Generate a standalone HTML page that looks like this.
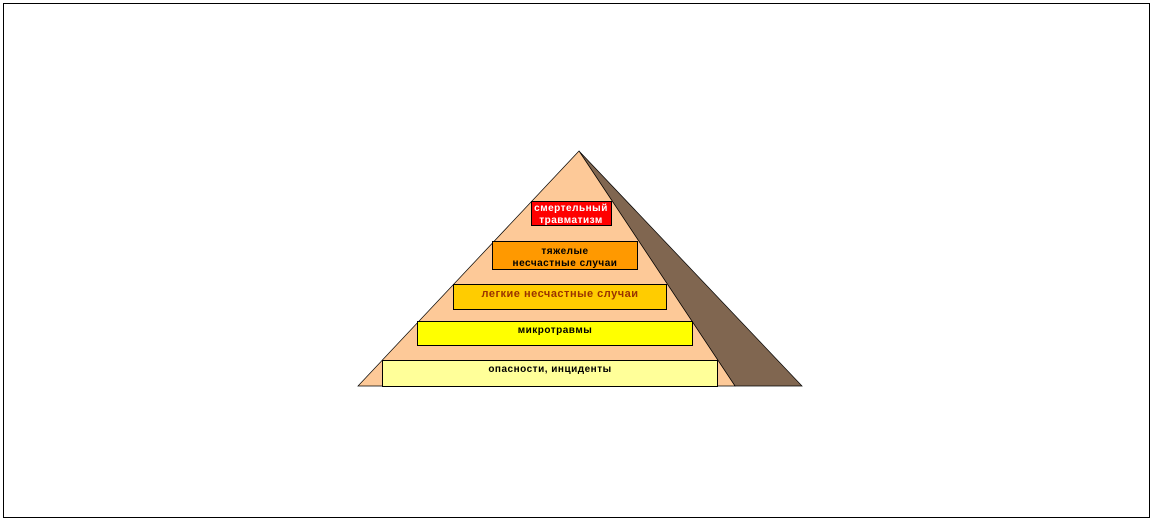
<!DOCTYPE html>
<html><head><meta charset="utf-8"><style>
body{margin:0;background:#fff;}
svg text{font-family:"Liberation Sans",sans-serif;font-weight:bold;font-size:10px;text-anchor:middle;letter-spacing:0.5px;}
</style></head><body>
<svg width="1153" height="521" xmlns="http://www.w3.org/2000/svg">
<rect x="3.5" y="3.5" width="1146" height="514" fill="#fff" stroke="#000" stroke-width="1"/>
<polygon points="579,151 802,386 735,386" fill="#806650" stroke="#000" stroke-width="0.7"/>
<polygon points="579,151 358,386 735,386" fill="#fdc998" stroke="#000" stroke-width="0.7"/>
<rect x="531.5" y="201.5" width="80" height="24" fill="#ff0000" stroke="#000"/>
<text x="571" y="211" fill="#fff">смертельный</text>
<text x="571" y="223" fill="#fff">травматизм</text>
<rect x="492.5" y="241.5" width="145" height="28" fill="#ff9900" stroke="#000"/>
<text x="565" y="254" fill="#000">тяжелые</text>
<text x="565" y="266" fill="#000">несчастные случаи</text>
<rect x="453.5" y="284.5" width="213" height="25" fill="#ffcc00" stroke="#000"/>
<text x="560" y="297" fill="#993300" style="font-size:11px">легкие несчастные случаи</text>
<rect x="417.5" y="321.5" width="275" height="24" fill="#ffff00" stroke="#000"/>
<text x="555" y="333" fill="#000">микротравмы</text>
<rect x="382.5" y="360.5" width="335" height="26" fill="#ffff99" stroke="#000"/>
<text x="550" y="372" fill="#000">опасности, инциденты</text>
</svg>
</body></html>
